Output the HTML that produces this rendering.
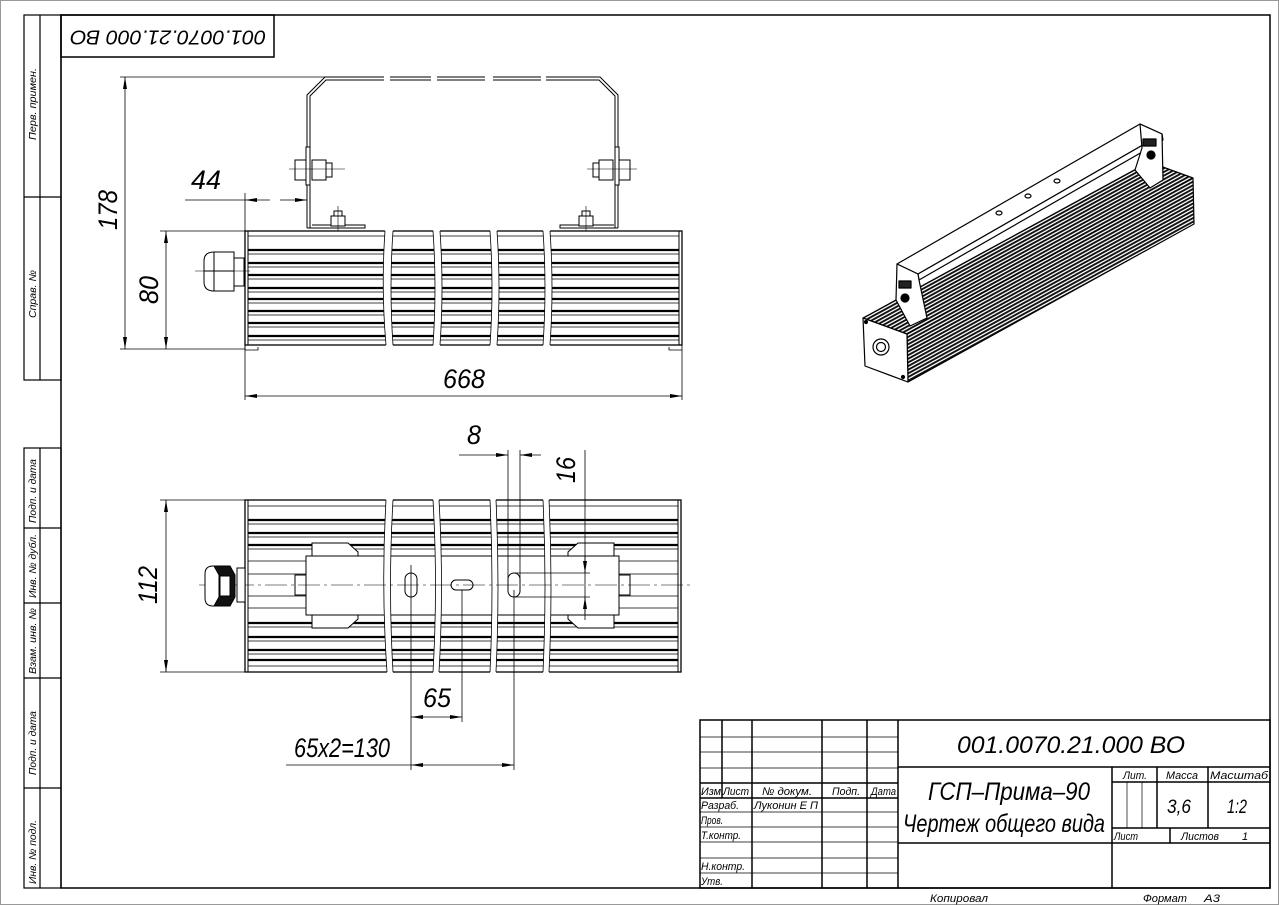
<!DOCTYPE html>
<html><head><meta charset="utf-8"><style>
html,body{margin:0;padding:0;background:#fff}
svg{display:block}
text{font-family:"Liberation Sans","DejaVu Sans",sans-serif;font-style:italic;fill:#000}
</style></head><body>
<svg width="1279" height="905" viewBox="0 0 1279 905" xmlns="http://www.w3.org/2000/svg">
<defs>
<marker id="ar" viewBox="0 0 12 4" refX="12" refY="2" markerWidth="12" markerHeight="4" orient="auto-start-reverse" markerUnits="userSpaceOnUse"><path d="M0,0 L12,2 L0,4z" fill="#000"/></marker>
<pattern id="fins" width="6" height="3.2" patternUnits="userSpaceOnUse" patternTransform="rotate(-28.6)"><rect width="6" height="3.2" fill="#fff"/><rect width="6" height="1.9" fill="#111"/></pattern>
</defs>
<rect x="0.5" y="0.5" width="1278" height="904" fill="none" stroke="#999"/>
<rect x="61" y="15" width="1209" height="873" fill="none" stroke="#000" stroke-width="1.5"/>
<g fill="none" stroke="#000" stroke-width="1.2">
<rect x="24" y="15" width="37" height="365"/><line x1="40" y1="15" x2="40" y2="380"/><line x1="24" y1="197" x2="61" y2="197"/>
<rect x="24" y="448" width="37" height="440"/><line x1="40" y1="448" x2="40" y2="888"/>
<line x1="24" y1="528" x2="61" y2="528"/><line x1="24" y1="603" x2="61" y2="603"/><line x1="24" y1="678" x2="61" y2="678"/><line x1="24" y1="788" x2="61" y2="788"/>
</g>
<g font-size="10">
<text transform="translate(36,140) rotate(-90)" textLength="72" lengthAdjust="spacingAndGlyphs">Перв. примен.</text>
<text transform="translate(36,318) rotate(-90)" textLength="48" lengthAdjust="spacingAndGlyphs">Справ. №</text>
<text transform="translate(36,523) rotate(-90)" textLength="64" lengthAdjust="spacingAndGlyphs">Подп. и дата</text>
<text transform="translate(36,598) rotate(-90)" textLength="64" lengthAdjust="spacingAndGlyphs">Инв. № дубл.</text>
<text transform="translate(36,674) rotate(-90)" textLength="66" lengthAdjust="spacingAndGlyphs">Взам. инв. №</text>
<text transform="translate(36,775) rotate(-90)" textLength="64" lengthAdjust="spacingAndGlyphs">Подп. и дата</text>
<text transform="translate(36,884) rotate(-90)" textLength="64" lengthAdjust="spacingAndGlyphs">Инв. № подл.</text>
</g>
<rect x="61" y="15" width="213" height="42" fill="none" stroke="#000" stroke-width="1.5"/>
<text transform="translate(168,36) rotate(180)" font-size="20" text-anchor="middle" dominant-baseline="middle" textLength="196" lengthAdjust="spacingAndGlyphs">001.0070.21.000 ВО</text>

<!-- TOP VIEW -->
<g stroke="#000" fill="none" stroke-width="1">
<path d="M307,228 L307,95 L325,77 L600,77 L618,95 L618,228" stroke-width="1"/>
<path d="M310,228 L310,96 L326,80 L599,80 L615,96 L615,228" stroke-width="1"/>
<line x1="384" y1="78.5" x2="390" y2="78.5" stroke="#fff" stroke-width="5"/>
<line x1="431" y1="78.5" x2="437" y2="78.5" stroke="#fff" stroke-width="5"/>
<line x1="485" y1="78.5" x2="493" y2="78.5" stroke="#fff" stroke-width="5"/>
<line x1="541" y1="78.5" x2="546" y2="78.5" stroke="#fff" stroke-width="5"/>
<path d="M307,228 L365,228 L365,225 L312,225" /><path d="M618,228 L560,228 L560,225 L614,225"/>
<rect x="295" y="160" width="12" height="20" fill="#fff"/><rect x="306" y="147" width="4" height="38" fill="#fff"/><rect x="312" y="160" width="14" height="20" fill="#fff"/><rect x="326" y="163" width="6" height="14" fill="#fff"/>
<line x1="289" y1="169" x2="345" y2="169" stroke-width="0.6"/>
<rect x="618" y="160" width="12" height="20" fill="#fff"/><rect x="615" y="147" width="4" height="38" fill="#fff"/><rect x="599" y="160" width="14" height="20" fill="#fff"/><rect x="593" y="163" width="6" height="14" fill="#fff"/>
<line x1="587" y1="169" x2="637" y2="169" stroke-width="0.6"/>
<rect x="331" y="216" width="14" height="10" fill="#fff"/><rect x="334" y="211" width="8" height="5" fill="#fff"/><line x1="338" y1="206" x2="338" y2="240" stroke-width="0.6"/>
<rect x="579" y="216" width="14" height="10" fill="#fff"/><rect x="582" y="211" width="8" height="5" fill="#fff"/><line x1="586" y1="206" x2="586" y2="240" stroke-width="0.6"/>
<rect x="245" y="231" width="437" height="114" fill="#fff" stroke-width="1.3"/>
<line x1="248" y1="231" x2="248" y2="345"/><line x1="679" y1="231" x2="679" y2="345"/>
</g>
<g stroke="#000">
<g stroke-width="2.2"><line x1="248" y1="250" x2="679" y2="250"/><line x1="248" y1="263" x2="679" y2="263"/><line x1="248" y1="275" x2="679" y2="275"/><line x1="248" y1="288" x2="679" y2="288"/><line x1="248" y1="299" x2="679" y2="299"/><line x1="248" y1="311" x2="679" y2="311"/><line x1="248" y1="323" x2="679" y2="323"/><line x1="248" y1="336" x2="679" y2="336"/></g>
<g stroke-width="0.7"><line x1="248" y1="236" x2="679" y2="236"/><line x1="248" y1="254" x2="679" y2="254"/><line x1="248" y1="267" x2="679" y2="267"/><line x1="248" y1="279" x2="679" y2="279"/><line x1="248" y1="292" x2="679" y2="292"/><line x1="248" y1="303" x2="679" y2="303"/><line x1="248" y1="315" x2="679" y2="315"/><line x1="248" y1="327" x2="679" y2="327"/><line x1="248" y1="340" x2="679" y2="340"/></g>
</g>
<g fill="#fff" stroke="none">
<path d="M385,229 Q381,288 386,347 L393,347 Q389,288 393,229z"/>
<path d="M433,229 Q437,288 433,347 L440,347 Q444,288 440,229z"/>
<path d="M490,229 Q494,288 490,347 L497,347 Q501,288 497,229z"/>
<path d="M543,229 Q547,288 543,347 L550,347 Q554,288 550,229z"/>
</g>
<g fill="none" stroke="#000" stroke-width="0.8">
<path d="M385,231 Q381,288 386,345"/><path d="M393,231 Q389,288 393,345"/>
<path d="M433,231 Q437,288 433,345"/><path d="M440,231 Q444,288 440,345"/>
<path d="M490,231 Q494,288 490,345"/><path d="M497,231 Q501,288 497,345"/>
<path d="M543,231 Q547,288 543,345"/><path d="M550,231 Q554,288 550,345"/>
<path d="M245,345 L245,350 L258,350 L258,347"/><path d="M682,345 L682,350 L669,350 L669,347"/>
</g>
<g stroke="#000" fill="#fff" stroke-width="1">
<path d="M214,252 L234,252 L234,291 L214,291 Q204,291 204,282 L204,261 Q204,252 214,252z"/>
<line x1="214" y1="252" x2="214" y2="291"/><line x1="204" y1="271" x2="234" y2="271"/>
<rect x="234" y="258" width="10" height="28"/>
<line x1="195" y1="271" x2="250" y2="271" stroke-width="0.5"/>
</g>
<g stroke="#000" stroke-width="0.8" fill="none">
<line x1="120" y1="77" x2="325" y2="77"/><line x1="120" y1="349" x2="245" y2="349"/><line x1="160" y1="231" x2="245" y2="231"/>
<line x1="125" y1="77" x2="125" y2="349" marker-start="url(#ar)" marker-end="url(#ar)"/>
<line x1="166" y1="231" x2="166" y2="349" marker-start="url(#ar)" marker-end="url(#ar)"/>
<line x1="245" y1="193" x2="245" y2="400"/><line x1="682" y1="350" x2="682" y2="400"/>
<line x1="185" y1="200" x2="245" y2="200"/><line x1="245" y1="200" x2="270" y2="200" marker-start="url(#ar)"/>
<line x1="280" y1="200" x2="307" y2="200" marker-end="url(#ar)"/>
<line x1="245" y1="396" x2="682" y2="396" marker-start="url(#ar)" marker-end="url(#ar)"/>
</g>
<g font-size="27">
<text transform="translate(117,210) rotate(-90)" text-anchor="middle" textLength="40" lengthAdjust="spacingAndGlyphs">178</text>
<text transform="translate(158,290) rotate(-90)" text-anchor="middle" textLength="28" lengthAdjust="spacingAndGlyphs">80</text>
<text x="191" y="189" textLength="30" lengthAdjust="spacingAndGlyphs">44</text>
<text x="443" y="388" textLength="42" lengthAdjust="spacingAndGlyphs">668</text>
</g>

<!-- BOTTOM VIEW -->
<rect x="245" y="500" width="436" height="172" fill="#fff" stroke="#000" stroke-width="1.3"/>
<g stroke="#000">
<line x1="248" y1="500" x2="248" y2="672" stroke-width="1"/><line x1="678" y1="500" x2="678" y2="672" stroke-width="1"/>
<g stroke-width="2.2"><line x1="248" y1="520" x2="678" y2="520"/><line x1="248" y1="533" x2="678" y2="533"/><line x1="248" y1="545" x2="678" y2="545"/><line x1="248" y1="623" x2="678" y2="623"/><line x1="248" y1="637" x2="678" y2="637"/><line x1="248" y1="650" x2="678" y2="650"/><line x1="248" y1="660" x2="678" y2="660"/></g>
<g stroke-width="0.7"><line x1="248" y1="506" x2="678" y2="506"/><line x1="248" y1="524" x2="678" y2="524"/><line x1="248" y1="537" x2="678" y2="537"/><line x1="248" y1="549" x2="678" y2="549"/><line x1="248" y1="561" x2="678" y2="561"/><line x1="248" y1="574" x2="678" y2="574"/><line x1="248" y1="596" x2="678" y2="596"/><line x1="248" y1="608" x2="678" y2="608"/><line x1="248" y1="627" x2="678" y2="627"/><line x1="248" y1="641" x2="678" y2="641"/><line x1="248" y1="654" x2="678" y2="654"/><line x1="248" y1="666" x2="678" y2="666"/></g>
</g>
<g stroke="#000" fill="#fff" stroke-width="1">
<path d="M312,543 L348,543 L358,552 L358,556 L312,556z"/><path d="M312,628 L348,628 L358,619 L358,615 L312,615z"/>
<path d="M614,543 L578,543 L568,552 L568,556 L614,556z"/><path d="M614,628 L578,628 L568,619 L568,615 L614,615z"/>
<rect x="306" y="556" width="313" height="59"/>
<rect x="295" y="575" width="11" height="20"/><rect x="619" y="575" width="11" height="20"/>
<rect x="405" y="573" width="12" height="24" rx="6"/>
<rect x="451" y="580" width="22" height="10" rx="5"/>
<rect x="508" y="573" width="12" height="24" rx="6"/>
</g>
<g fill="#fff" stroke="none">
<path d="M386,498 Q381,586 387,674 L393,674 Q388,586 393,498z"/>
<path d="M433,498 Q438,586 433,674 L439,674 Q444,586 439,498z"/>
<path d="M490,498 Q494,586 490,674 L496,674 Q500,586 496,498z"/>
<path d="M543,498 Q547,586 543,674 L549,674 Q553,586 549,498z"/>
</g>
<g fill="none" stroke="#000" stroke-width="0.8">
<path d="M386,500 Q381,586 387,672"/><path d="M393,500 Q388,586 393,672"/>
<path d="M433,500 Q438,586 433,672"/><path d="M439,500 Q444,586 439,672"/>
<path d="M490,500 Q494,586 490,672"/><path d="M496,500 Q500,586 496,672"/>
<path d="M543,500 Q547,586 543,672"/><path d="M549,500 Q553,586 549,672"/>
</g>
<line x1="199" y1="585" x2="690" y2="585" stroke="#000" stroke-width="0.6" stroke-dasharray="22,4,3,4"/>
<g stroke="#000" stroke-width="1">
<path d="M213,566 L229,566 L229,606 L213,606 Q205,606 205,598 L205,574 Q205,566 213,566z" fill="#fff"/>
<path d="M214,566 L230,566 L235,575 L235,597 L230,606 L214,606 L219,597 L219,575z" fill="#111"/>
<path d="M220,576 L230,576 L230,596 L220,596z" fill="#fff"/>
<rect x="237" y="568" width="8" height="34" fill="#fff"/>
</g>
<g stroke="#000" stroke-width="0.8" fill="none">
<line x1="160" y1="500" x2="245" y2="500"/><line x1="160" y1="672" x2="245" y2="672"/>
<line x1="166" y1="500" x2="166" y2="672" marker-start="url(#ar)" marker-end="url(#ar)"/>
<line x1="508" y1="450" x2="508" y2="590"/><line x1="520" y1="450" x2="520" y2="580"/>
<line x1="459" y1="455" x2="508" y2="455" marker-end="url(#ar)"/><line x1="541" y1="455" x2="520" y2="455" marker-end="url(#ar)"/>
<line x1="515" y1="573" x2="590" y2="573"/><line x1="515" y1="597" x2="590" y2="597"/>
<line x1="585" y1="450" x2="585" y2="620"/>
<line x1="585" y1="556" x2="585" y2="573" marker-end="url(#ar)"/><line x1="585" y1="614" x2="585" y2="597" marker-end="url(#ar)"/>
<line x1="411" y1="565" x2="411" y2="770"/><line x1="462" y1="590" x2="462" y2="722"/><line x1="514" y1="590" x2="514" y2="770"/>
<line x1="411" y1="717" x2="462" y2="717" marker-start="url(#ar)" marker-end="url(#ar)"/>
<line x1="286" y1="765" x2="411" y2="765"/>
<line x1="411" y1="765" x2="514" y2="765" marker-start="url(#ar)" marker-end="url(#ar)"/>
</g>
<g font-size="27">
<text transform="translate(157,585) rotate(-90)" text-anchor="middle" textLength="38" lengthAdjust="spacingAndGlyphs">112</text>
<text x="467" y="444" textLength="14" lengthAdjust="spacingAndGlyphs">8</text>
<text transform="translate(575,470) rotate(-90)" text-anchor="middle" textLength="26" lengthAdjust="spacingAndGlyphs">16</text>
<text x="423" y="707" textLength="28" lengthAdjust="spacingAndGlyphs">65</text>
<text x="294" y="757" textLength="96" lengthAdjust="spacingAndGlyphs">65x2=130</text>
</g>

<!-- 3D VIEW -->
<g stroke="#000" stroke-width="1.2" stroke-linejoin="round">
<polygon points="863,318 907,334 1193,178 1149,162" fill="url(#fins)"/>
<polygon points="907,334 1193,178 1194,224 908,382" fill="url(#fins)"/>
<polygon points="863,318 907,334 908,382 865,366" fill="#fff"/>
<circle cx="881" cy="347" r="8" fill="#fff"/><circle cx="881" cy="347" r="4.5" fill="#fff"/>
<circle cx="866" cy="322" r="1.5" fill="#000"/><circle cx="903" cy="377" r="1.5" fill="#000"/>
<polygon points="897,264 1140,124 1162,134 918,274" fill="#fff"/>
<polygon points="918,274 1162,134 1163,140 919,280" fill="#fff"/>
<polygon points="897,264 918,274 919,280 927,318 910,326 896,300" fill="#fff"/>
<polygon points="1140,124 1162,134 1163,180 1150,188 1135,170 1142,148" fill="#fff"/>
<circle cx="905" cy="298" r="4" fill="#000"/><circle cx="1151" cy="155" r="4" fill="#000"/>
<rect x="899" y="281" width="12" height="7" fill="#222"/><rect x="1143" y="139" width="13" height="7" fill="#222"/>
<ellipse cx="999" cy="213" rx="3" ry="2" fill="#fff"/><ellipse cx="1028" cy="196" rx="3" ry="2" fill="#fff"/><ellipse cx="1057" cy="181" rx="3" ry="2" fill="#fff"/>
</g>

<!-- TITLE BLOCK -->
<g stroke="#000" fill="none">
<rect x="700" y="720" width="570" height="168" stroke-width="1.5"/>
<g stroke-width="1.5">
<line x1="722" y1="720" x2="722" y2="798"/><line x1="752" y1="720" x2="752" y2="888"/><line x1="822" y1="720" x2="822" y2="888"/><line x1="867" y1="720" x2="867" y2="888"/><line x1="898" y1="720" x2="898" y2="888"/>
<line x1="700" y1="783" x2="898" y2="783"/><line x1="700" y1="798" x2="898" y2="798"/>
<line x1="898" y1="767" x2="1270" y2="767"/><line x1="898" y1="843" x2="1270" y2="843"/>
<line x1="1112" y1="767" x2="1112" y2="888"/><line x1="1157" y1="767" x2="1157" y2="828"/><line x1="1208" y1="767" x2="1208" y2="828"/>
<line x1="1112" y1="782" x2="1270" y2="782"/><line x1="1112" y1="828" x2="1270" y2="828"/><line x1="1170" y1="828" x2="1170" y2="843"/>
</g>
<g stroke-width="0.7">
<line x1="700" y1="737" x2="898" y2="737"/><line x1="700" y1="752" x2="898" y2="752"/><line x1="700" y1="768" x2="898" y2="768"/>
<line x1="700" y1="812" x2="898" y2="812"/><line x1="700" y1="827" x2="898" y2="827"/><line x1="700" y1="842" x2="898" y2="842"/><line x1="700" y1="858" x2="898" y2="858"/><line x1="700" y1="873" x2="898" y2="873"/>
<line x1="1127" y1="782" x2="1127" y2="828"/><line x1="1142" y1="782" x2="1142" y2="828"/>
</g>
</g>
<g font-size="11">
<text x="701" y="795" textLength="20" lengthAdjust="spacingAndGlyphs">Изм</text>
<text x="723" y="795" textLength="26" lengthAdjust="spacingAndGlyphs">Лист</text>
<text x="762" y="795" textLength="50" lengthAdjust="spacingAndGlyphs">№ докум.</text>
<text x="832" y="795" textLength="28" lengthAdjust="spacingAndGlyphs">Подп.</text>
<text x="871" y="795" textLength="25" lengthAdjust="spacingAndGlyphs">Дата</text>
<text x="701" y="809" textLength="38" lengthAdjust="spacingAndGlyphs">Разраб.</text>
<text x="754" y="809" textLength="64" lengthAdjust="spacingAndGlyphs">Луконин Е П</text>
<text x="701" y="824" textLength="22" lengthAdjust="spacingAndGlyphs">Пров.</text>
<text x="701" y="839" textLength="40" lengthAdjust="spacingAndGlyphs">Т.контр.</text>
<text x="701" y="870" textLength="44" lengthAdjust="spacingAndGlyphs">Н.контр.</text>
<text x="701" y="885" textLength="22" lengthAdjust="spacingAndGlyphs">Утв.</text>
<text x="1123" y="779" textLength="24" lengthAdjust="spacingAndGlyphs">Лит.</text>
<text x="1166" y="779" textLength="32" lengthAdjust="spacingAndGlyphs">Масса</text>
<text x="1210" y="779" textLength="58" lengthAdjust="spacingAndGlyphs">Масштаб</text>
<text x="1114" y="840" textLength="24" lengthAdjust="spacingAndGlyphs">Лист</text>
<text x="1181" y="840" textLength="38" lengthAdjust="spacingAndGlyphs">Листов</text>
<text x="1242" y="840">1</text>
<text x="930" y="902" textLength="58" lengthAdjust="spacingAndGlyphs">Копировал</text>
<text x="1143" y="902" textLength="44" lengthAdjust="spacingAndGlyphs">Формат</text>
<text x="1204" y="902" textLength="16" lengthAdjust="spacingAndGlyphs">А3</text>
</g>
<text x="957" y="753" font-size="24" textLength="228" lengthAdjust="spacingAndGlyphs">001.0070.21.000 ВО</text>
<text x="928" y="800" font-size="25" textLength="162" lengthAdjust="spacingAndGlyphs">ГСП–Прима–90</text>
<text x="903" y="832" font-size="25" textLength="202" lengthAdjust="spacingAndGlyphs">Чертеж общего вида</text>
<text x="1167" y="813" font-size="19" textLength="24" lengthAdjust="spacingAndGlyphs">3,6</text>
<text x="1227" y="813" font-size="19" textLength="20" lengthAdjust="spacingAndGlyphs">1:2</text>
</svg>
</body></html>
